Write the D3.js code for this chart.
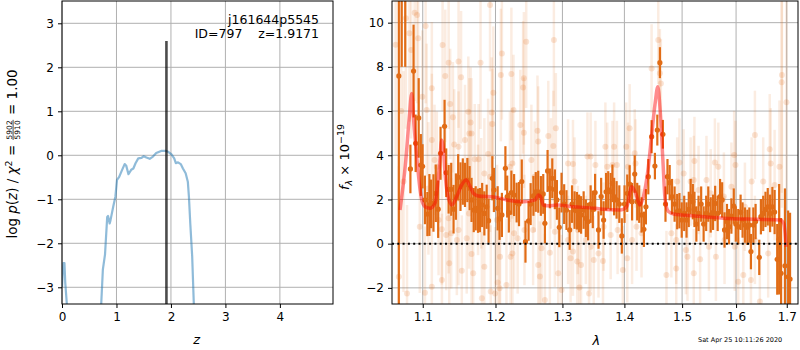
<!DOCTYPE html>
<html>
<head>
<meta charset="utf-8">
<script src="https://cdn.jsdelivr.net/npm/d3@7.9.0/dist/d3.min.js"></script>
<style>
  body { margin: 0; background: #fff; }
  svg { font-family: 'DejaVu Sans', sans-serif; }
</style>
</head>
<body>
<svg id="chart" width="800" height="350"></svg>
<script>
// ---- left panel: redshift probability ----
const zGrid = [0.0, 0.01, 0.025, 0.045, 0.06, 0.09, 0.12, 0.4, 0.70, 0.72, 0.75, 0.79, 0.83, 0.845, 0.875, 0.89, 0.94, 0.98,
  1.01, 1.05, 1.09, 1.15, 1.18, 1.22, 1.27, 1.31, 1.35, 1.40, 1.46, 1.50, 1.55, 1.61, 1.67, 1.73, 1.82, 1.90, 1.95,
  2.01, 2.06, 2.09, 2.13, 2.18, 2.22, 2.27, 2.31, 2.33, 2.355, 2.39, 2.42, 2.45];
const logPz = [-3.0, -2.75, -2.45, -2.45, -2.9, -3.4, -4.5, -8, -4.0, -3.38, -2.6, -2.25, -1.40, -1.38, -1.55, -1.48, -1.17, -0.94,
  -0.56, -0.49, -0.37, -0.2, -0.24, -0.43, -0.33, -0.3, -0.18, -0.07, -0.06, -0.02, -0.05, -0.08, -0.03, 0.05, 0.1, 0.1, 0.08,
  0.02, -0.07, -0.18, -0.16, -0.2, -0.3, -0.41, -0.6, -0.94, -1.55, -2.3, -3.38, -4.5];
const zBest = 1.9171;
const zBestTop = 2.6;
const zTicks = [0, 1, 2, 3, 4];
const pzTicks = [-3, -2, -1, 0, 1, 2, 3];

// ---- right panel: spectrum ----
// model
const modelWave = [1.0705, 1.0780, 1.0825, 1.0856, 1.0885, 1.0925, 1.0960, 1.0987, 1.1030, 1.1096, 1.1163, 1.1221, 1.1253,
  1.1275, 1.1297, 1.1328, 1.1388, 1.1457, 1.1525, 1.1585, 1.1640, 1.1686, 1.1757, 1.1994, 1.2163, 1.2407, 1.2582, 1.2631,
  1.2660, 1.2707, 1.2783, 1.2912, 1.3171, 1.3517, 1.3599, 1.3928, 1.4040, 1.4124, 1.4180, 1.4265, 1.4322, 1.4407, 1.4467,
  1.4524, 1.4571, 1.4611, 1.4659, 1.4699, 1.4757, 1.4845, 1.5235, 1.5760, 1.6402, 1.6866, 1.6940, 1.6967, 1.6987];
const modelFlux = [1.52, 3.79, 5.75, 6.8, 5.4, 3.79, 2.58, 1.98, 1.67, 1.6, 1.84, 3.48, 4.69,
  4.3, 3.2, 2.28, 1.75, 2.13, 2.66, 2.88, 2.6, 2.28, 2.16, 2.1, 1.98, 1.9, 1.98, 2.2,
  2.15, 1.75, 1.71, 1.75, 1.67, 1.6, 1.57, 1.52, 1.67, 2.58, 2.35, 1.75, 2.13, 3.48, 5.0,
  6.35, 7.1, 6.05, 3.79, 1.98, 1.45, 1.34, 1.25, 1.15, 1.1, 1.07, 0.9, 0.47, -0.14];

// binned spectrum
const binWave = [1.0690, 1.0727, 1.0772, 1.0839, 1.0880, 1.0907, 1.0947, 1.0975, 1.0998, 1.1029, 1.1061, 1.1088, 1.1110,
  1.1142, 1.1173, 1.1205, 1.1237, 1.1291, 1.1313, 1.1346, 1.1381, 1.1413, 1.1445, 1.1476, 1.1508, 1.1540, 1.1570, 1.1603,
  1.1634, 1.1661, 1.1692, 1.1719, 1.1752, 1.1779, 1.1810, 1.1841, 1.1874, 1.1901, 1.1955,
  1.1977, 1.2031, 1.2058, 1.2092, 1.2143, 1.2169, 1.2193, 1.2230, 1.2270, 1.2307, 1.2342, 1.2383, 1.2438, 1.2484, 1.2515,
  1.2557, 1.2592, 1.2629, 1.2669, 1.2705, 1.2730, 1.2771, 1.2806, 1.2843, 1.2883, 1.2914, 1.2951, 1.2986, 1.3027, 1.3063,
  1.3113, 1.3150, 1.3190, 1.3227, 1.3262, 1.3293, 1.3334, 1.3369, 1.3405, 1.3446, 1.3481, 1.3518,
  1.3573, 1.3616, 1.3656, 1.3697, 1.3732, 1.3772, 1.3801, 1.3829, 1.3870, 1.3915, 1.3957, 1.4002, 1.4048, 1.4088, 1.4129,
  1.4174, 1.4216, 1.4250, 1.4290, 1.4330, 1.4365, 1.4406, 1.4463, 1.4520, 1.4562, 1.4607, 1.4659, 1.4705, 1.4740, 1.4779,
  1.4821, 1.4866, 1.4912, 1.4952, 1.4993, 1.5038, 1.5080, 1.5120, 1.5154, 1.5194,
  1.5223, 1.5258, 1.5298, 1.5346, 1.5391, 1.5438, 1.5477, 1.5522, 1.5566, 1.5605, 1.5652, 1.5697, 1.5736, 1.5781, 1.5827,
  1.5866, 1.5911, 1.5956, 1.5995, 1.6042, 1.6087, 1.6125, 1.6170, 1.6217, 1.6256, 1.6287, 1.6334, 1.6378, 1.6450, 1.6482,
  1.6528, 1.6573, 1.6618, 1.6665, 1.6710, 1.6755, 1.6807, 1.6846, 1.6885, 1.6963, 1.7028, 1.7067];
const binFlux = [7.59, 13, 12.5, 3.38, 7.81, 4.54, 5.69, 3.56, 3.5, 1.98, 1.34, 1.75, 1.8,
  1.84, 2.28, 1.56, 4.09, 5.31, 3.21, 2.46, 2.46, 1.56, 2.13, 3.0, 2.58, 2.81, 2.66, 2.88,
  2.51, 1.98, 1.52, 1.6, 1.49, 1.52, 1.75, 1.37, 1.67, 1.04, 2.96,
  2.43, 1.60, 1.12, 1.30, 3.41, 2.13, 1.40, 2.31, 2.20, 1.86, 1.79, 2.81, 0.09, 1.03, 1.79,
  2.16, 2.34, 2.35, 2.16, 2.25, 0.92, 3.29, 2.50, 2.96, 2.46, 1.98, 0.74, 2.31, 1.79, 1.52,
  0.62, 1.79, 1.52, 1.49, 1.37, 1.30, 1.52, 1.15, 1.00, 1.79, 1.55, 2.31,
  0.62, 2.13, 1.07, 2.35, 2.43, 2.35, 2.73, 2.13, 1.98, 1.79, 0.35, 1.79, 2.28, 2.70, 1.90,
  3.15, 1.90, 1.79, 1.30, 0.65, 1.67, 3.03, 4.84, 3.51, 5.14, 8.19, 4.95, 1.79, 3.03, 2.76,
  2.13, 1.79, 1.45, 1.49, 1.07, 1.37, 1.07, 1.55, 2.13, 1.90,
  1.55, 0.89, 1.37, 1.79, 0.89, 1.37, 1.79, 1.30, 1.42, 1.82, 1.37, 2.13, 1.98, 0.62, 1.00,
  0.77, 1.25, 1.70, 0.89, 0.77, 1.42, 1.07, 0.84, 0.74, 0.84, -0.36, 0.84, 1.00, -0.62, 1.22,
  1.37, 1.55, 1.67, 1.37, 1.67, 1.43, -0.71, 0.20, -1.34, -1.0, -1.5, -1.6];
const binErr = [11, 5, 4.5, 1.1, 2.1, 1.3, 1.8, 1.4, 1.0, 1.1, 1.0, 1.4, 1.1,
  1.3, 1.3, 1.3, 1.2, 1.2, 1.1, 1.1, 1.2, 1.1, 1.05, 1.05, 1.1, 1.05, 1.0, 1.0,
  1.0, 1.0, 1.0, 1.0, 1.0, 1.0, 1.0, 1.0, 1.0, 1.0, 1.0,
  1.0, 1.0, 0.95, 1.0, 1.0, 0.95, 0.9, 1.0, 0.95, 0.9, 1.0, 1.0, 0.95, 0.9, 0.95,
  0.9, 0.9, 0.95, 0.9, 0.9, 0.9, 0.95, 0.9, 0.9, 0.9, 0.9, 0.9, 0.9, 0.9, 0.9,
  0.9, 0.85, 0.85, 0.85, 0.85, 0.85, 0.85, 0.85, 0.85, 0.85, 0.85, 0.85,
  0.85, 0.85, 0.85, 0.85, 0.85, 0.85, 0.85, 0.85, 0.85, 0.85, 0.8, 0.85, 0.85, 0.85, 0.85,
  0.85, 0.85, 0.85, 0.8, 0.8, 0.8, 0.8, 0.75, 0.6, 0.7, 0.7, 0.65, 0.8, 0.8, 0.8,
  0.8, 0.8, 0.8, 0.8, 0.8, 0.8, 0.8, 0.8, 0.8, 0.8,
  0.8, 0.8, 0.8, 0.8, 0.8, 0.8, 0.8, 0.8, 0.8, 0.8, 0.8, 0.8, 0.8, 0.8, 0.8,
  0.8, 0.8, 0.8, 0.8, 0.8, 0.8, 0.8, 0.8, 0.8, 0.8, 0.8, 0.8, 0.8, 0.8, 0.8,
  0.8, 0.8, 0.85, 0.85, 0.9, 1.0, 1.6, 2.5, 2.5, 3.5, 3.0, 3.0];

// individual exposures (faint)
const expWave = [1.0795, 1.0894, 1.0926, 1.0940, 1.1038, 1.1264, 1.1300, 1.1346, 1.1481, 1.1516, 1.1120, 1.1787, 1.1922,
  1.1969, 1.1404, 1.1367, 1.1616, 1.1648, 1.1630, 1.1946, 1.1955, 1.1570, 1.1481, 1.1422, 1.1156, 1.1187, 1.1706, 1.1760,
  1.1895, 1.1841, 1.1922, 1.0750, 1.0961, 1.1255, 1.1346, 1.1381, 1.1481, 1.1594, 1.1625, 1.1661, 1.1354, 1.1526, 1.1684,
  1.1841, 1.1806, 1.1932, 1.1029, 1.1120, 1.1255, 1.1458, 1.1313, 1.1210, 1.1075, 1.0994, 1.1661, 1.1752, 1.1797, 1.1120,
  1.1052, 1.0849, 1.0826,
  1.2092, 1.2077, 1.2230, 1.2261, 1.2362, 1.2403, 1.2414, 1.2449, 1.2414, 1.2629, 1.2618, 1.2868, 1.2898, 1.2859, 1.2782,
  1.3088, 1.3395, 1.3446, 1.3165, 1.3190, 1.2245, 1.2209, 1.2526, 1.2576, 1.2822, 1.2066, 1.2219, 1.2245, 1.2629, 1.2654,
  1.2031, 1.2058, 1.2158, 1.2935, 1.2986, 1.3128, 1.3165, 1.3231, 1.3293, 1.3420, 1.3266, 1.2322, 1.2679, 1.2883, 1.2806,
  1.3088, 1.3369, 1.3446, 1.2423, 1.2270, 1.2022, 1.2552, 1.3242, 1.1994, 1.2730,
  1.3496, 1.3573, 1.3646, 1.3801, 1.3715, 1.3875, 1.4031, 1.4088, 1.4060, 1.4174, 1.4187, 1.3974, 1.4048, 1.4129, 1.4204,
  1.4290, 1.4463, 1.4607, 1.4624, 1.4579, 1.4722, 1.4895, 1.4952, 1.4912, 1.5028, 1.5068, 1.5154, 1.5211, 1.5097, 1.4895,
  1.4809, 1.3772, 1.3656, 1.3887, 1.3523, 1.3685, 1.3829,
  1.5223, 1.5211, 1.5327, 1.5444, 1.5600, 1.5664, 1.5619, 1.5769, 1.5964, 1.5989, 1.6041, 1.6139, 1.6301, 1.6365, 1.6287,
  1.6462, 1.6626, 1.6657, 1.6677, 1.6528, 1.6897, 1.6902, 1.6994, 1.6755, 1.6170, 1.5781, 1.5975, 1.6365, 1.5489, 1.5522,
  1.5911, 1.5298, 1.6852, 1.0650, 1.0720, 1.0780, 1.0690];
const expFlux = [-2.25, 10.45, 10.35, 9.29, 9.85, 8.99, 7.59, 8.19, 8.24, 7.53, 7.03, 8.19, 10.80,
  6.83, 5.72, 6.32, 5.97, 5.48, 4.99, 5.93, 5.41, 4.69, 4.39, 4.49, 3.79, 3.48, 3.82, 3.82,
  4.06, 3.18, 3.03, 2.81, 0.77, 0.65, 1.15, 0.47, 0.62, 0.24, 1.37, -0.47, -0.89, -1.22, -1.34,
  -1.04, -2.47, -2.17, -2.22, -1.95, -1.64, 0.17, 0.39, 1.07, 2.50, 6.65, 4.99, 1.98, 2.28, 4.69,
  6.05, 8.76, 9.52,
  8.61, 7.63, 7.68, 6.05, 5.37, 7.07, 7.48, 9.14, 5.02, 4.62, 5.11, 9.22, 5.22, 4.42, 4.87,
  3.63, 3.94, 3.94, 3.60, 2.81, 3.63, 3.48, 3.79, 3.03, 3.18, -0.59, -0.59, -0.44, -0.97, -1.49,
  -1.76, -2.02, -1.87, -1.34, -2.10, -0.66, -0.36, -0.81, -0.97, -2.25, -1.98, 0.24, -0.21, 0.54, -0.41,
  0.17, 0.17, -0.14, 0.62, 0.47, 1.07, 0.62, 0.62, -2.25, -2.55,
  -0.74, -0.44, -0.78, 3.56, 3.48, 3.56, 4.39, 5.22, 3.48, 4.09, 3.63, -1.19, -0.66, 0.17, 0.77,
  0.47, 7.93, 7.71, 7.25, 9.22, -1.42, -1.12, 3.67, 2.81, 3.18, -0.29, 2.81, 2.88, -0.59, 0.17,
  0.47, 0.39, 0.77, 0.62, 3.56, 4.39, 4.39,
  3.74, -1.34, -0.71, 2.88, 3.67, 3.48, -0.59, 2.13, 4.01, 3.56, -1.72, -1.42, 2.81, 4.92, -1.64,
  -2.62, -0.44, 4.27, 3.63, 2.81, 7.30, 7.63, 6.40, 2.65, 1.67, 0.17, -0.14, 0.17, -0.14, 2.28,
  2.58, 2.43, 3.48, 9.0, 6.0, 10.2, -1.5];
const expErr = [4, 4, 4, 3.5, 3.5, 3, 3, 3, 3, 3, 3, 3, 3,
  3, 2.5, 2.5, 2.5, 2.5, 2.5, 2.5, 2.5, 2.5, 2.5, 2.5, 2.5, 2.5, 2.5, 2.5,
  2.5, 2.5, 2.5, 5, 3, 2.5, 2.5, 2.5, 2.5, 2.5, 2.5, 2.5, 2.5, 2.5, 2.5,
  2.5, 3, 3, 3, 3, 3, 2.5, 2.5, 2.5, 3, 3, 2.5, 2.5, 2.5, 3,
  3, 4, 4,
  3, 3, 3, 2.5, 2.5, 3, 3, 3, 2.5, 2.5, 2.5, 3, 2.5, 2.5, 2.5,
  2, 2, 2, 2, 2, 2.5, 2.5, 2.5, 2.5, 2.5, 2.5, 2.5, 2.5, 2.5, 2.5,
  3, 3, 3, 2.5, 2.5, 2, 2, 2, 2, 2, 2, 2.5, 2.5, 2.5, 2.5,
  2, 2, 2, 2.5, 2.5, 2.5, 2.5, 2, 3, 3,
  2, 2, 2, 2, 2, 2, 2, 2, 2, 2, 2, 2, 2, 2, 2,
  2, 2, 2, 2, 2, 2, 2, 2, 2, 2, 2, 2, 2, 2, 2,
  2, 2, 2, 2, 2, 2, 2,
  2, 2, 2, 2, 2, 2, 2, 2, 2, 2, 2, 2, 2, 2, 2,
  2, 2, 2.5, 2.5, 2, 5, 6, 5, 2.5, 2, 2, 2, 2, 2, 2,
  2, 2, 3, 5, 6, 5, 5];
const waveTicks = [1.1, 1.2, 1.3, 1.4, 1.5, 1.6, 1.7];
const fluxTicks = [-2, 0, 2, 4, 6, 8, 10];

const objName = 'j161644p5545';
const objInfo = 'ID=797\u00a0\u00a0\u00a0\u00a0z=1.9171';
const chi2Num = '5902';
const chi2Den = '5910';
const chi2Red = '1.00';
const stamp = 'Sat Apr 25 10:11:26 2020';

const svg = d3.select('#chart');
const gridColor = '#b0b0b0';
const orange = 'rgb(225,108,22)';

const L = { x0: 62, x1: 333, y0: 1, y1: 304 };
const R = { x0: 392, x1: 798, y0: 1, y1: 304 };

const xL = d3.scaleLinear().domain([0, 4.975]).range([L.x0, L.x1]);
const yL = d3.scaleLinear().domain([-3.38, 3.507]).range([L.y1, L.y0]);
const xR = d3.scaleLog().domain([1.0603, 1.723]).range([R.x0, R.x1]);
const yR = d3.scaleLinear().domain([-2.73, 10.98]).range([R.y1, R.y0]);

const defs = svg.append('defs');
[['clipL', L], ['clipR', R]].forEach(([id, b]) => {
  defs.append('clipPath').attr('id', id)
    .append('rect').attr('x', b.x0).attr('y', b.y0)
    .attr('width', b.x1 - b.x0).attr('height', b.y1 - b.y0);
});

function grid(b, xs, ys, xt, yt) {
  const g = svg.append('g').attr('stroke', gridColor).attr('stroke-width', 1);
  g.selectAll('line.v').data(xt).join('line').attr('class', 'v')
    .attr('x1', d => xs(d)).attr('x2', d => xs(d)).attr('y1', b.y0).attr('y2', b.y1);
  g.selectAll('line.h').data(yt).join('line').attr('class', 'h')
    .attr('x1', b.x0).attr('x2', b.x1).attr('y1', d => ys(d)).attr('y2', d => ys(d));
}

function axes(b, xs, ys, xt, yt, xf, yf) {
  const ax = svg.append('g').attr('transform', `translate(0,${b.y1})`)
    .call(d3.axisBottom(xs).tickValues(xt).tickFormat(xf).tickSize(4).tickSizeOuter(0).tickPadding(4));
  const ay = svg.append('g').attr('transform', `translate(${b.x0},0)`)
    .call(d3.axisLeft(ys).tickValues(yt).tickFormat(yf).tickSize(4).tickSizeOuter(0).tickPadding(4));
  [ax, ay].forEach(a => {
    a.select('.domain').remove();
    a.selectAll('text').attr('fill', '#000').style('font-size', '12px')
      .style('font-family', "'DejaVu Sans', sans-serif");
    a.selectAll('.tick line').attr('stroke', '#000');
  });
  svg.append('rect').attr('x', b.x0).attr('y', b.y0)
    .attr('width', b.x1 - b.x0).attr('height', b.y1 - b.y0)
    .attr('fill', 'none').attr('stroke', '#000').attr('stroke-width', 1);
}

// ---------- left panel ----------
grid(L, xL, yL, zTicks, pzTicks);
const gl = svg.append('g').attr('clip-path', 'url(#clipL)');
gl.append('path')
  .datum(zGrid.map((z, i) => [z, logPz[i]]))
  .attr('d', d3.line().x(d => xL(d[0])).y(d => yL(d[1])))
  .attr('fill', 'none').attr('stroke', '#1f77b4').attr('stroke-opacity', 0.5)
  .attr('stroke-width', 2.2).attr('stroke-linejoin', 'round');
gl.append('line')
  .attr('x1', xL(zBest)).attr('x2', xL(zBest))
  .attr('y1', yL(zBestTop)).attr('y2', yL(-3.38))
  .attr('stroke', '#000').attr('stroke-opacity', 0.7).attr('stroke-width', 2.6);
axes(L, xL, yL, zTicks, pzTicks, d3.format('d'), d3.format('d'));

svg.append('text').attr('x', 319).attr('y', 24).attr('text-anchor', 'end')
  .style('font-size', '12.5px').text(objName);
svg.append('text').attr('x', 319).attr('y', 38).attr('text-anchor', 'end')
  .style('font-size', '12.5px').text(objInfo);

svg.append('text').attr('x', xL(2.47)).attr('y', 344).attr('text-anchor', 'middle')
  .style('font-size', '13px').style('font-style', 'italic').text('z');

// y label with fraction
const lab = svg.append('g').attr('transform', 'translate(17,154) rotate(-90)');
const labIn = lab.append('g');
const t1 = labIn.append('text').style('font-size', '13.5px');
t1.append('tspan').text('log ');
t1.append('tspan').style('font-style', 'italic').text('p');
t1.append('tspan').text('(');
t1.append('tspan').style('font-style', 'italic').text('z');
t1.append('tspan').text(') / ');
t1.append('tspan').style('font-style', 'italic').text('χ');
t1.append('tspan').style('font-size', '9.5px').attr('dy', -5.5).text('2');
t1.append('tspan').attr('dy', 5.5).text('\u00a0=\u00a0');
const w1 = t1.node().getComputedTextLength();
const num = labIn.append('text').style('font-size', '7.5px').attr('text-anchor', 'middle').attr('y', -5.3).text(chi2Num);
const den = labIn.append('text').style('font-size', '7.5px').attr('text-anchor', 'middle').attr('y', 3.2).text(chi2Den);
const fw = Math.max(num.node().getComputedTextLength(), den.node().getComputedTextLength()) + 2;
num.attr('x', w1 + fw / 2);
den.attr('x', w1 + fw / 2);
labIn.append('line').attr('x1', w1 + 0.5).attr('x2', w1 + fw - 0.5)
  .attr('y1', -3.9).attr('y2', -3.9).attr('stroke', '#000').attr('stroke-width', 0.7);
const t2 = labIn.append('text').style('font-size', '13.5px').attr('x', w1 + fw)
  .text('\u00a0=\u00a0' + chi2Red);
const wTot = w1 + fw + t2.node().getComputedTextLength();
labIn.attr('transform', `translate(${-wTot / 2},0)`);

// ---------- right panel ----------
grid(R, xR, yR, waveTicks, fluxTicks);
const gr = svg.append('g').attr('clip-path', 'url(#clipR)');

const expData = expWave.map((w, i) => ({ w, f: expFlux[i], e: expErr[i] }));
gr.append('g').selectAll('line').data(expData).join('line')
  .attr('x1', d => xR(d.w)).attr('x2', d => xR(d.w))
  .attr('y1', d => yR(d.f - d.e)).attr('y2', d => yR(d.f + d.e))
  .attr('stroke', orange).attr('stroke-opacity', 0.13).attr('stroke-width', 2.5);
gr.append('g').selectAll('circle').data(expData).join('circle')
  .attr('cx', d => xR(d.w)).attr('cy', d => yR(d.f)).attr('r', 3)
  .attr('fill', orange).attr('fill-opacity', 0.18);

const binData = binWave.map((w, i) => ({ w, f: binFlux[i], e: binErr[i] }));
gr.append('g').selectAll('line').data(binData).join('line')
  .attr('x1', d => xR(d.w)).attr('x2', d => xR(d.w))
  .attr('y1', d => yR(d.f - d.e)).attr('y2', d => yR(d.f + d.e))
  .attr('stroke', orange).attr('stroke-width', 2.2);
gr.append('g').selectAll('circle').data(binData).join('circle')
  .attr('cx', d => xR(d.w)).attr('cy', d => yR(d.f)).attr('r', 2.6)
  .attr('fill', orange);

gr.append('path')
  .datum(modelWave.map((w, i) => [w, modelFlux[i]]))
  .attr('d', d3.line().x(d => xR(d[0])).y(d => yR(d[1])).curve(d3.curveMonotoneX))
  .attr('fill', 'none').attr('stroke', 'red').attr('stroke-opacity', 0.45)
  .attr('stroke-width', 3.5).attr('stroke-linejoin', 'round');

gr.append('line').attr('x1', R.x0).attr('x2', R.x1).attr('y1', yR(0)).attr('y2', yR(0))
  .attr('stroke', '#000').attr('stroke-width', 2).attr('stroke-dasharray', '2,3.3');

axes(R, xR, yR, waveTicks, fluxTicks, d3.format('.1f'), d3.format('d'));

svg.append('text').attr('x', xR(1.4) - 28).attr('y', 345).attr('text-anchor', 'middle')
  .style('font-size', '13px').style('font-style', 'italic').text('λ');

const rl = svg.append('text').attr('transform', 'translate(349,157) rotate(-90)')
  .attr('text-anchor', 'middle').style('font-size', '13px');
rl.append('tspan').style('font-style', 'italic').text('f');
rl.append('tspan').style('font-size', '9.5px').attr('dy', 3).style('font-style', 'italic').text('λ');
rl.append('tspan').attr('dy', -3).text('\u00a0×\u00a010');
rl.append('tspan').style('font-size', '9.5px').attr('dy', -5.5).text('−19');

svg.append('text').attr('x', 698).attr('y', 342).style('font-size', '6.5px').text(stamp);
</script>
</body>
</html>
